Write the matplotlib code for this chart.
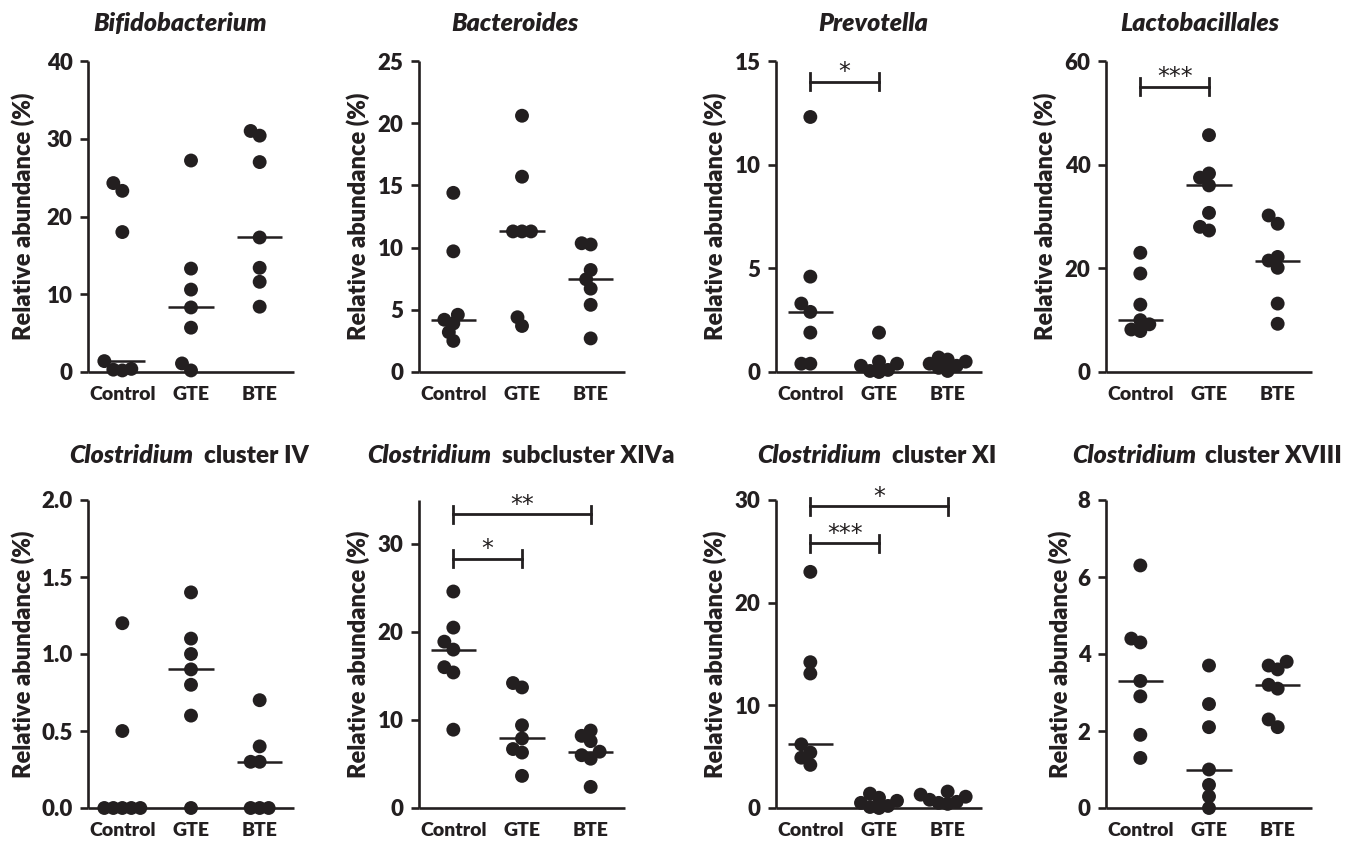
import numpy as np
import matplotlib
matplotlib.use("Agg")
import matplotlib.pyplot as plt
from matplotlib.transforms import IdentityTransform

plt.rcParams['font.family'] = ['Lato', 'DejaVu Sans']
plt.rcParams['font.weight'] = 'heavy'

INK = '#231f20'

groups = ["Control", "GTE", "BTE"]

# relative abundance (%) per mouse, Control / GTE / BTE
bifido = [[24.3, 23.3, 18.0, 1.4, 0.4, 0.3, 0.2],
          [27.2, 13.3, 10.6, 8.3, 5.7, 1.1, 0.2],
          [31.0, 30.4, 27.0, 17.3, 13.4, 11.6, 8.4]]
bactero = [[14.4, 9.7, 4.6, 4.2, 3.9, 3.2, 2.5],
           [20.6, 15.7, 11.3, 11.3, 11.3, 4.4, 3.7],
           [10.35, 10.25, 8.2, 7.45, 6.7, 5.4, 2.7]]
prevo = [[12.3, 4.6, 3.3, 2.9, 1.9, 0.4, 0.4],
         [1.9, 0.5, 0.4, 0.3, 0.1, 0.05, 0.0],
         [0.7, 0.6, 0.5, 0.4, 0.3, 0.2, 0.05]]
lacto = [[23.0, 19.0, 13.0, 10.0, 9.2, 8.2, 7.9],
         [45.7, 38.3, 37.5, 36.0, 30.7, 28.0, 27.3],
         [30.2, 28.6, 22.2, 21.5, 20.1, 13.2, 9.3]]
clos_iv = [[1.2, 0.5, 0.0, 0.0, 0.0, 0.0, 0.0],
           [1.4, 1.1, 1.0, 0.9, 0.8, 0.6, 0.0],
           [0.7, 0.4, 0.3, 0.3, 0.0, 0.0, 0.0]]
clos_xiva = [[24.6, 20.5, 18.9, 18.0, 16.0, 15.4, 8.9],
             [14.2, 13.7, 9.4, 7.9, 6.7, 6.3, 3.65],
             [8.8, 8.2, 7.6, 6.4, 6.0, 5.6, 2.4]]
clos_xi = [[23.0, 14.2, 13.1, 6.2, 5.4, 4.9, 4.2],
           [1.4, 1.0, 0.7, 0.5, 0.2, 0.1, 0.0],
           [1.6, 1.3, 1.1, 0.8, 0.6, 0.5, 0.4]]
clos_xviii = [[6.3, 4.4, 4.3, 3.3, 2.9, 1.9, 1.3],
              [3.7, 2.7, 2.1, 1.0, 0.6, 0.3, 0.0],
              [3.8, 3.7, 3.6, 3.2, 3.1, 2.3, 2.1]]

# (italic part, plain part, data, y max, y ticks, tick format)
panels = [
    ("Bifidobacterium", "", bifido, 40, [0, 10, 20, 30, 40], "{:.0f}"),
    ("Bacteroides", "", bactero, 25, [0, 5, 10, 15, 20, 25], "{:.0f}"),
    ("Prevotella", "", prevo, 15, [0, 5, 10, 15], "{:.0f}"),
    ("Lactobacillales", "", lacto, 60, [0, 20, 40, 60], "{:.0f}"),
    ("Clostridium", "cluster IV", clos_iv, 2.0, [0, 0.5, 1.0, 1.5, 2.0], "{:.1f}"),
    ("Clostridium", "subcluster XIVa", clos_xiva, 35, [0, 10, 20, 30], "{:.0f}"),
    ("Clostridium", "cluster XI", clos_xi, 30, [0, 10, 20, 30], "{:.0f}"),
    ("Clostridium", "cluster XVIII", clos_xviii, 8, [0, 2, 4, 6, 8], "{:.0f}"),
]

# significance brackets: panel -> (group a, group b, height, stars)
sig = {
    2: [(0, 1, 14.0, "*")],
    3: [(0, 1, 55.0, "***")],
    5: [(0, 2, 33.4, "**"), (0, 1, 28.3, "*")],
    6: [(0, 2, 29.4, "*"), (0, 1, 25.8, "***")],
}

W, H = 1352, 841
fig = plt.figure(figsize=(W / 100, H / 100), dpi=100)

lefts = [88, 419, 776, 1106]
ax_w = 206
rows = [(61, 372), (500, 808)]          # top, bottom in px from top
ylab_off = [65, 61, 61, 61, 65, 61, 61, 46]
title_cx = [180, 515, 873, 1200, 189, 521, 877, 1207]
title_base = [31, 31, 31, 31, 463, 463, 463, 463]
title_gap = [0, 0, 0, 0, 11, 11, 11, 8]


def swarm(vals, ypx, step=9.0, dmin=10.0):
    # simple beeswarm in pixel units
    vals = np.asarray(vals, dtype=float)
    offs = np.zeros(len(vals))
    placed = []
    cands = [0.0]
    for k in range(1, 8):
        cands += [-k * 0.5, k * 0.5]
    for i in np.argsort(vals):
        y = vals[i] * ypx
        for c in cands:
            x = c * step
            if all(((x - px) / step) ** 2 + ((y - py) / dmin) ** 2 >= 0.999
                   for px, py in placed):
                break
        placed.append((x, y))
        offs[i] = x
    return offs


renderer = fig.canvas.get_renderer()

for n, (t_it, t_rest, data, ymax, ticks, fmt) in enumerate(panels):
    top, bot = rows[n // 4]
    left = lefts[n % 4]
    ax = fig.add_axes([left / W, (H - bot) / H, ax_w / W, (bot - top) / H])
    ax.set_xlim(-0.5, 2.5)
    ax.set_ylim(0, ymax)
    ax_h = bot - top
    ypx = ax_h / ymax
    xpx = ax_w / 3.0

    for g, vals in enumerate(data):
        offs = swarm(vals, ypx) / xpx
        ax.scatter(g + offs, vals, s=100, color=INK, edgecolors='none',
                   zorder=3, clip_on=False)
        med = np.median(vals)
        ax.plot([g - 0.33, g + 0.33], [med, med], color=INK, lw=1.8,
                zorder=4, clip_on=False, solid_capstyle='butt')

    for a, b, h, stars in sig.get(n, []):
        cap = 8.5 / ypx
        ax.plot([a, b], [h, h], color=INK, lw=2.0, clip_on=False)
        for xx in (a, b):
            ax.plot([xx, xx], [h - cap, h + cap], color=INK, lw=2.0,
                    clip_on=False)
        ax.text((a + b) / 2, h + 2.5 / ypx, stars, ha='center', va='baseline',
                fontsize=17, fontweight='normal', color=INK,
                family=['DejaVu Sans'])

    for side in ('top', 'right'):
        ax.spines[side].set_visible(False)
    for side in ('left', 'bottom'):
        ax.spines[side].set_linewidth(1.9)
        ax.spines[side].set_color(INK)
        ax.spines[side].set_capstyle('butt')

    ax.set_yticks(ticks)
    ax.set_yticklabels([fmt.format(t) for t in ticks])
    ax.set_xticks(range(3))
    ax.set_xticklabels(groups)
    ax.tick_params(axis='y', length=6, width=1.9, pad=5, labelsize=16,
                   color=INK, labelcolor=INK)
    ax.tick_params(axis='x', length=0, pad=10, labelsize=14,
                   labelcolor=INK)

    ax.text(-ylab_off[n] / ax_w, 0.5, "Relative abundance (%)",
            transform=ax.transAxes, rotation=90, ha='center', va='center',
            fontsize=17, color=INK)

    # title: italic genus + upright remainder, centred on title_cx
    yb = H - title_base[n]
    t1 = fig.text(0, yb, t_it, transform=IdentityTransform(), fontsize=18,
                  style='italic', ha='left', va='baseline', color=INK)
    w1 = t1.get_window_extent(renderer).width
    w2 = 0
    t2 = None
    if t_rest:
        t2 = fig.text(0, yb, t_rest, transform=IdentityTransform(),
                      fontsize=17.5, ha='left', va='baseline', color=INK)
        w2 = t2.get_window_extent(renderer).width + title_gap[n]
    x0 = title_cx[n] - (w1 + w2) / 2
    t1.set_x(x0)
    if t2 is not None:
        t2.set_x(x0 + w1 + title_gap[n])

fig.savefig("out.png", dpi=100)
